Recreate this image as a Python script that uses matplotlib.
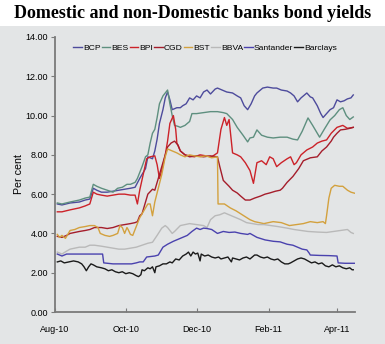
import pandas as pd
import matplotlib
matplotlib.use("Agg")
import matplotlib.pyplot as plt
import matplotlib.dates as mdates
from matplotlib.patches import Rectangle

# ---------------------------- Data (days after 1 Aug 2010) ---------------------------- #
start_date = pd.Timestamp("2010-08-01")

bcp_days = [2, 6, 13, 21, 26, 30, 33, 36, 40, 45, 50, 55, 60, 65, 69, 73, 78, 80, 84, 86, 88, 90, 93, 95, 97, 99,
            101, 103, 105, 108, 110, 113, 116, 119, 122, 125, 128, 131, 134, 138, 140, 144, 148, 153, 157, 160,
            163, 166, 169, 172, 174, 179, 183, 188, 191, 195, 200, 203, 206, 209, 212, 215, 217, 220, 222, 226,
            229, 231, 234, 237, 240, 243, 246, 249, 252, 255, 257]
bcp = [5.5, 5.45, 5.55, 5.6, 5.7, 5.75, 6.3, 6.2, 6.1, 6.1, 6.15, 6.2, 6.25, 6.3, 6.35, 6.8, 7.3, 7.9, 7.8, 8.2,
       8.8, 9.6, 10.3, 10.9, 11.2, 10.8, 10.3, 10.35, 10.4, 10.4, 10.5, 10.6, 10.9, 10.8, 11.0, 10.9, 11.2, 11.3,
       11.1, 11.35, 11.4, 11.3, 11.2, 11.15, 11.0, 10.9, 10.5, 10.3, 10.6, 11.0, 11.15, 11.4, 11.45, 11.4, 11.4,
       11.3, 11.25, 11.15, 11.0, 10.7, 10.9, 11.05, 11.15, 10.95, 10.9, 10.5, 10.1, 9.9, 10.1, 10.3, 10.4, 10.8,
       10.7, 10.75, 10.85, 10.9, 11.05]

bes_days = [2, 6, 13, 21, 26, 30, 33, 36, 40, 45, 50, 54, 58, 62, 65, 69, 71, 75, 78, 80, 82, 84, 86, 88, 90, 93,
            97, 99, 101, 103, 106, 108, 112, 116, 118, 122, 128, 134, 140, 145, 148, 153, 157, 162, 166, 168, 171,
            174, 178, 183, 188, 194, 200, 205, 209, 213, 218, 222, 226, 228, 232, 237, 241, 245, 248, 251, 254, 257]
bes = [5.55, 5.5, 5.6, 5.7, 5.8, 5.85, 6.5, 6.4, 6.3, 6.2, 6.1, 6.3, 6.35, 6.5, 6.5, 6.6, 6.8, 7.4, 7.9, 8.0, 8.6,
       9.1, 9.3, 9.9, 10.6, 11.0, 11.3, 10.6, 10.0, 9.5, 9.45, 9.4, 9.5, 9.7, 10.1, 10.1, 10.15, 10.2, 10.2, 10.15,
       10.1, 9.8, 9.4, 9.0, 8.66, 8.86, 8.9, 9.27, 9.0, 8.9, 8.86, 8.9, 8.9, 8.8, 8.76, 9.2, 9.88, 9.5, 9.1, 8.9,
       9.3, 9.78, 10.0, 10.3, 10.4, 10.0, 9.8, 9.93]

bpi_days = [2, 6, 13, 21, 26, 30, 33, 36, 40, 45, 50, 55, 60, 65, 69, 71, 73, 76, 79, 82, 86, 88, 90, 92, 95, 97,
            99, 102, 104, 105, 108, 112, 116, 120, 125, 130, 135, 140, 143, 146, 148, 150, 153, 157, 160, 164, 168,
            171, 174, 178, 182, 185, 188, 191, 195, 200, 203, 206, 208, 212, 217, 222, 226, 230, 234, 238, 243,
            248, 252, 257]
bpi = [5.1, 5.1, 5.2, 5.3, 5.4, 5.5, 6.1, 6.0, 5.95, 5.9, 5.95, 6.0, 6.0, 5.95, 5.95, 5.5, 6.2, 7.0, 7.8, 7.9,
       7.95, 7.5, 6.8, 7.2, 8.0, 8.7, 9.6, 10.0, 9.3, 8.6, 8.2, 8.0, 7.95, 7.9, 8.0, 7.95, 7.9, 8.1, 9.3, 9.9,
       9.5, 9.8, 8.1, 8.0, 7.9, 7.6, 7.2, 6.55, 7.6, 7.7, 7.5, 7.9, 7.8, 7.4, 7.6, 7.8, 7.9, 7.5, 7.6, 8.0, 8.25,
       8.4, 8.6, 8.7, 8.76, 9.1, 9.4, 9.5, 9.35, 9.4]

cgd_days = [2, 6, 10, 13, 17, 21, 26, 30, 34, 40, 45, 50, 55, 60, 65, 69, 71, 73, 75, 78, 80, 84, 86, 88, 90, 93,
            97, 100, 103, 106, 108, 112, 116, 122, 128, 134, 140, 142, 145, 150, 153, 157, 160, 164, 168, 172, 177,
            181, 185, 190, 194, 196, 200, 205, 210, 214, 220, 226, 230, 234, 238, 240, 243, 246, 250, 254, 257]
cgd = [3.85, 3.8, 3.9, 4.0, 4.05, 4.1, 4.15, 4.2, 4.3, 4.3, 4.25, 4.3, 4.4, 4.45, 4.5, 4.55, 4.6, 4.9, 5.0, 5.6,
       6.0, 6.25, 6.2, 6.6, 7.0, 7.6, 8.4, 8.6, 8.7, 8.5, 8.2, 8.0, 7.9, 7.95, 7.9, 7.95, 7.9, 7.4, 6.7, 6.4, 6.2,
       6.06, 5.9, 5.7, 5.7, 5.8, 5.9, 6.0, 6.06, 6.15, 6.2, 6.3, 6.6, 6.9, 7.3, 7.7, 7.85, 7.9, 8.2, 8.4, 8.7, 8.9,
       9.1, 9.27, 9.3, 9.35, 9.4]

bst_days = [2, 4, 6, 9, 13, 17, 21, 26, 30, 34, 37, 39, 43, 47, 50, 54, 56, 58, 60, 62, 63, 65, 67, 69, 71, 73,
            75, 78, 80, 82, 84, 86, 89, 92, 95, 97, 101, 105, 108, 112, 116, 120, 125, 130, 135, 140, 140.5, 146,
            151, 156, 160, 168, 172, 180, 188, 195, 202, 208, 214, 220, 226, 231, 233, 234, 236, 238, 241, 245,
            248, 252, 255, 258]
bst = [3.95, 3.8, 3.9, 3.75, 4.15, 4.2, 4.3, 4.35, 4.4, 4.4, 4.3, 4.0, 3.9, 3.85, 3.9, 4.0, 4.4, 4.3, 4.0, 4.3,
       4.2, 3.95, 3.9, 4.2, 4.5, 4.8, 5.0, 5.3, 5.5, 5.5, 4.9, 5.6, 6.3, 7.0, 7.9, 8.3, 8.2, 8.1, 8.0, 7.9, 8.0,
       7.95, 7.9, 7.95, 7.85, 7.9, 5.5, 5.5, 5.3, 5.15, 5.0, 4.7, 4.6, 4.5, 4.6, 4.55, 4.4, 4.45, 4.5, 4.6, 4.55,
       4.6, 4.5, 4.9, 5.8, 6.3, 6.45, 6.4, 6.4, 6.2, 6.1, 6.05]

bbva_days = [2, 6, 10, 13, 17, 21, 26, 30, 34, 40, 45, 50, 55, 60, 65, 70, 75, 80, 84, 88, 92, 95, 97, 101, 103,
             108, 112, 116, 122, 128, 131, 134, 138, 142, 146, 150, 154, 160, 165, 170, 175, 180, 186, 192, 200,
             206, 212, 218, 226, 234, 240, 246, 252, 255, 257]
bbva = [3.05, 2.95, 3.1, 3.2, 3.25, 3.3, 3.3, 3.4, 3.4, 3.35, 3.3, 3.25, 3.2, 3.2, 3.25, 3.3, 3.4, 3.5, 3.55, 3.9,
        4.27, 4.4, 4.3, 4.0, 4.1, 4.4, 4.45, 4.5, 4.45, 4.4, 4.3, 4.7, 4.9, 4.95, 5.05, 4.95, 4.85, 4.7, 4.55, 4.5,
        4.45, 4.45, 4.4, 4.35, 4.27, 4.2, 4.15, 4.1, 4.07, 4.05, 4.1, 4.15, 4.2, 4.05, 4.0]

santander_days = [2, 6, 10, 20, 30, 41, 42, 50, 60, 66, 70, 73, 76, 79, 86, 89, 93, 97, 102, 106, 110, 114, 118,
                  122, 125, 128, 131, 135, 140, 145, 150, 155, 160, 166, 168, 174, 181, 188, 194, 200, 205, 209,
                  213, 217, 219, 220, 228, 236, 243, 244, 250, 258]
santander = [2.95, 2.85, 2.95, 2.95, 2.95, 2.95, 2.5, 2.45, 2.45, 2.45, 2.5, 2.55, 2.55, 2.8, 2.85, 2.9, 3.3,
             3.45, 3.6, 3.7, 3.8, 3.9, 4.1, 4.27, 4.2, 4.27, 4.25, 4.2, 4.0, 4.1, 4.05, 4.07, 4.0, 3.95, 4.0, 3.8,
             3.67, 3.6, 3.57, 3.45, 3.4, 3.3, 3.2, 3.16, 3.0, 2.9, 2.88, 2.87, 2.85, 2.5, 2.48, 2.48]

barclays_days = [2, 5, 8, 12, 16, 20, 23, 25, 27, 29, 31, 33, 36, 40, 43, 46, 49, 52, 55, 58, 61, 64, 67, 70, 72,
                 74, 75, 77, 80, 82, 84, 86, 87, 90, 93, 96, 99, 101, 104, 107, 110, 113, 115, 117, 119, 121, 123,
                 125, 126, 129, 132, 135, 138, 141, 143, 146, 149, 152, 153, 156, 159, 162, 165, 168, 170, 172,
                 174, 177, 180, 183, 186, 189, 192, 195, 198, 201, 203, 206, 209, 212, 215, 218, 221, 224, 227,
                 230, 233, 236, 239, 242, 245, 248, 251, 254, 256, 257]
barclays = [2.55, 2.6, 2.5, 2.55, 2.6, 2.55, 2.45, 2.3, 2.1, 2.3, 2.45, 2.4, 2.3, 2.25, 2.2, 2.1, 2.15, 2.05, 2.0,
            2.05, 1.95, 2.0, 1.95, 1.85, 1.8, 1.9, 2.15, 2.1, 2.25, 2.2, 2.3, 2.0, 2.3, 2.35, 2.45, 2.45, 2.55,
            2.5, 2.7, 2.65, 2.85, 2.95, 3.05, 2.85, 3.05, 2.95, 3.0, 2.6, 2.95, 2.85, 2.9, 2.8, 2.75, 2.8, 2.7,
            2.75, 2.8, 2.55, 2.75, 2.7, 2.65, 2.75, 2.8, 2.7, 2.8, 2.9, 2.9, 2.8, 2.75, 2.8, 2.7, 2.65, 2.7, 2.55,
            2.45, 2.45, 2.5, 2.6, 2.7, 2.75, 2.7, 2.6, 2.5, 2.55, 2.45, 2.5, 2.35, 2.3, 2.4, 2.3, 2.35, 2.25, 2.2,
            2.25, 2.15, 2.15]

series = [
    ("BCP", bcp_days, bcp, "#4d4b9c"),
    ("BES", bes_days, bes, "#5e8f7f"),
    ("BPI", bpi_days, bpi, "#cc2229"),
    ("CGD", cgd_days, cgd, "#a51d2b"),
    ("BST", bst_days, bst, "#d3a13e"),
    ("BBVA", bbva_days, bbva, "#b9b9b9"),
    ("Santander", santander_days, santander, "#4a42ae"),
    ("Barclays", barclays_days, barclays, "#1a1a1a"),
]

bg = "#e3e5e6"
font = "Liberation Sans"

# ---------------------------- Figure ---------------------------- #
fig = plt.figure(figsize=(3.85, 3.44), dpi=100)
fig.patch.set_facecolor("white")
# gray panel behind the chart, title strip stays white
fig.add_artist(Rectangle((0, 0), 1, 1 - 26 / 344, transform=fig.transFigure,
                         facecolor=bg, edgecolor="none", zorder=-10))

fig.text(0.5, 1 - 14 / 344, "Domestic and non-Domestic banks bond yields", ha="center", va="center",
         fontsize=13, fontweight="bold", family="Liberation Serif")

ax = fig.add_axes([55 / 385, 32 / 344, 300 / 385, 275 / 344])
ax.set_facecolor(bg)

for name, days, vals, color in series:
    dates = start_date + pd.to_timedelta(days, unit="D")
    ax.plot(dates, vals, color=color, lw=1.0, label=name)

ax.set_ylim(0, 14)
ax.set_yticks(range(0, 15, 2))
ax.yaxis.set_major_formatter(matplotlib.ticker.FormatStrFormatter("%.2f"))
ax.set_xlim(start_date, start_date + pd.Timedelta(days=258.5))
ax.xaxis.set_major_locator(mdates.MonthLocator(bymonth=[2, 4, 6, 8, 10, 12]))
ax.xaxis.set_major_formatter(mdates.DateFormatter("%b-%y"))

for side in ["top", "right"]:
    ax.spines[side].set_visible(False)
for side in ["left", "bottom"]:
    ax.spines[side].set_color("#7a7a7a")
    ax.spines[side].set_linewidth(1.3)

ax.tick_params(axis="y", direction="out", length=3, color="#7a7a7a", labelsize=6.5, pad=2)
ax.tick_params(axis="x", direction="in", length=3, color="#7a7a7a", labelsize=6.5, pad=9)
for lab in ax.get_xticklabels() + ax.get_yticklabels():
    lab.set_family(font)

ax.set_ylabel("Per cent", fontsize=7.7, family=font, labelpad=1)

leg = ax.legend(loc="upper center", bbox_to_anchor=(0.5, 1.0), ncol=8, frameon=False,
                handlelength=1.0, handletextpad=0.12, columnspacing=0.15,
                prop={"family": font, "size": 6.1}, borderaxespad=0.4)

fig.savefig("out.png", dpi=100, facecolor=fig.get_facecolor())
